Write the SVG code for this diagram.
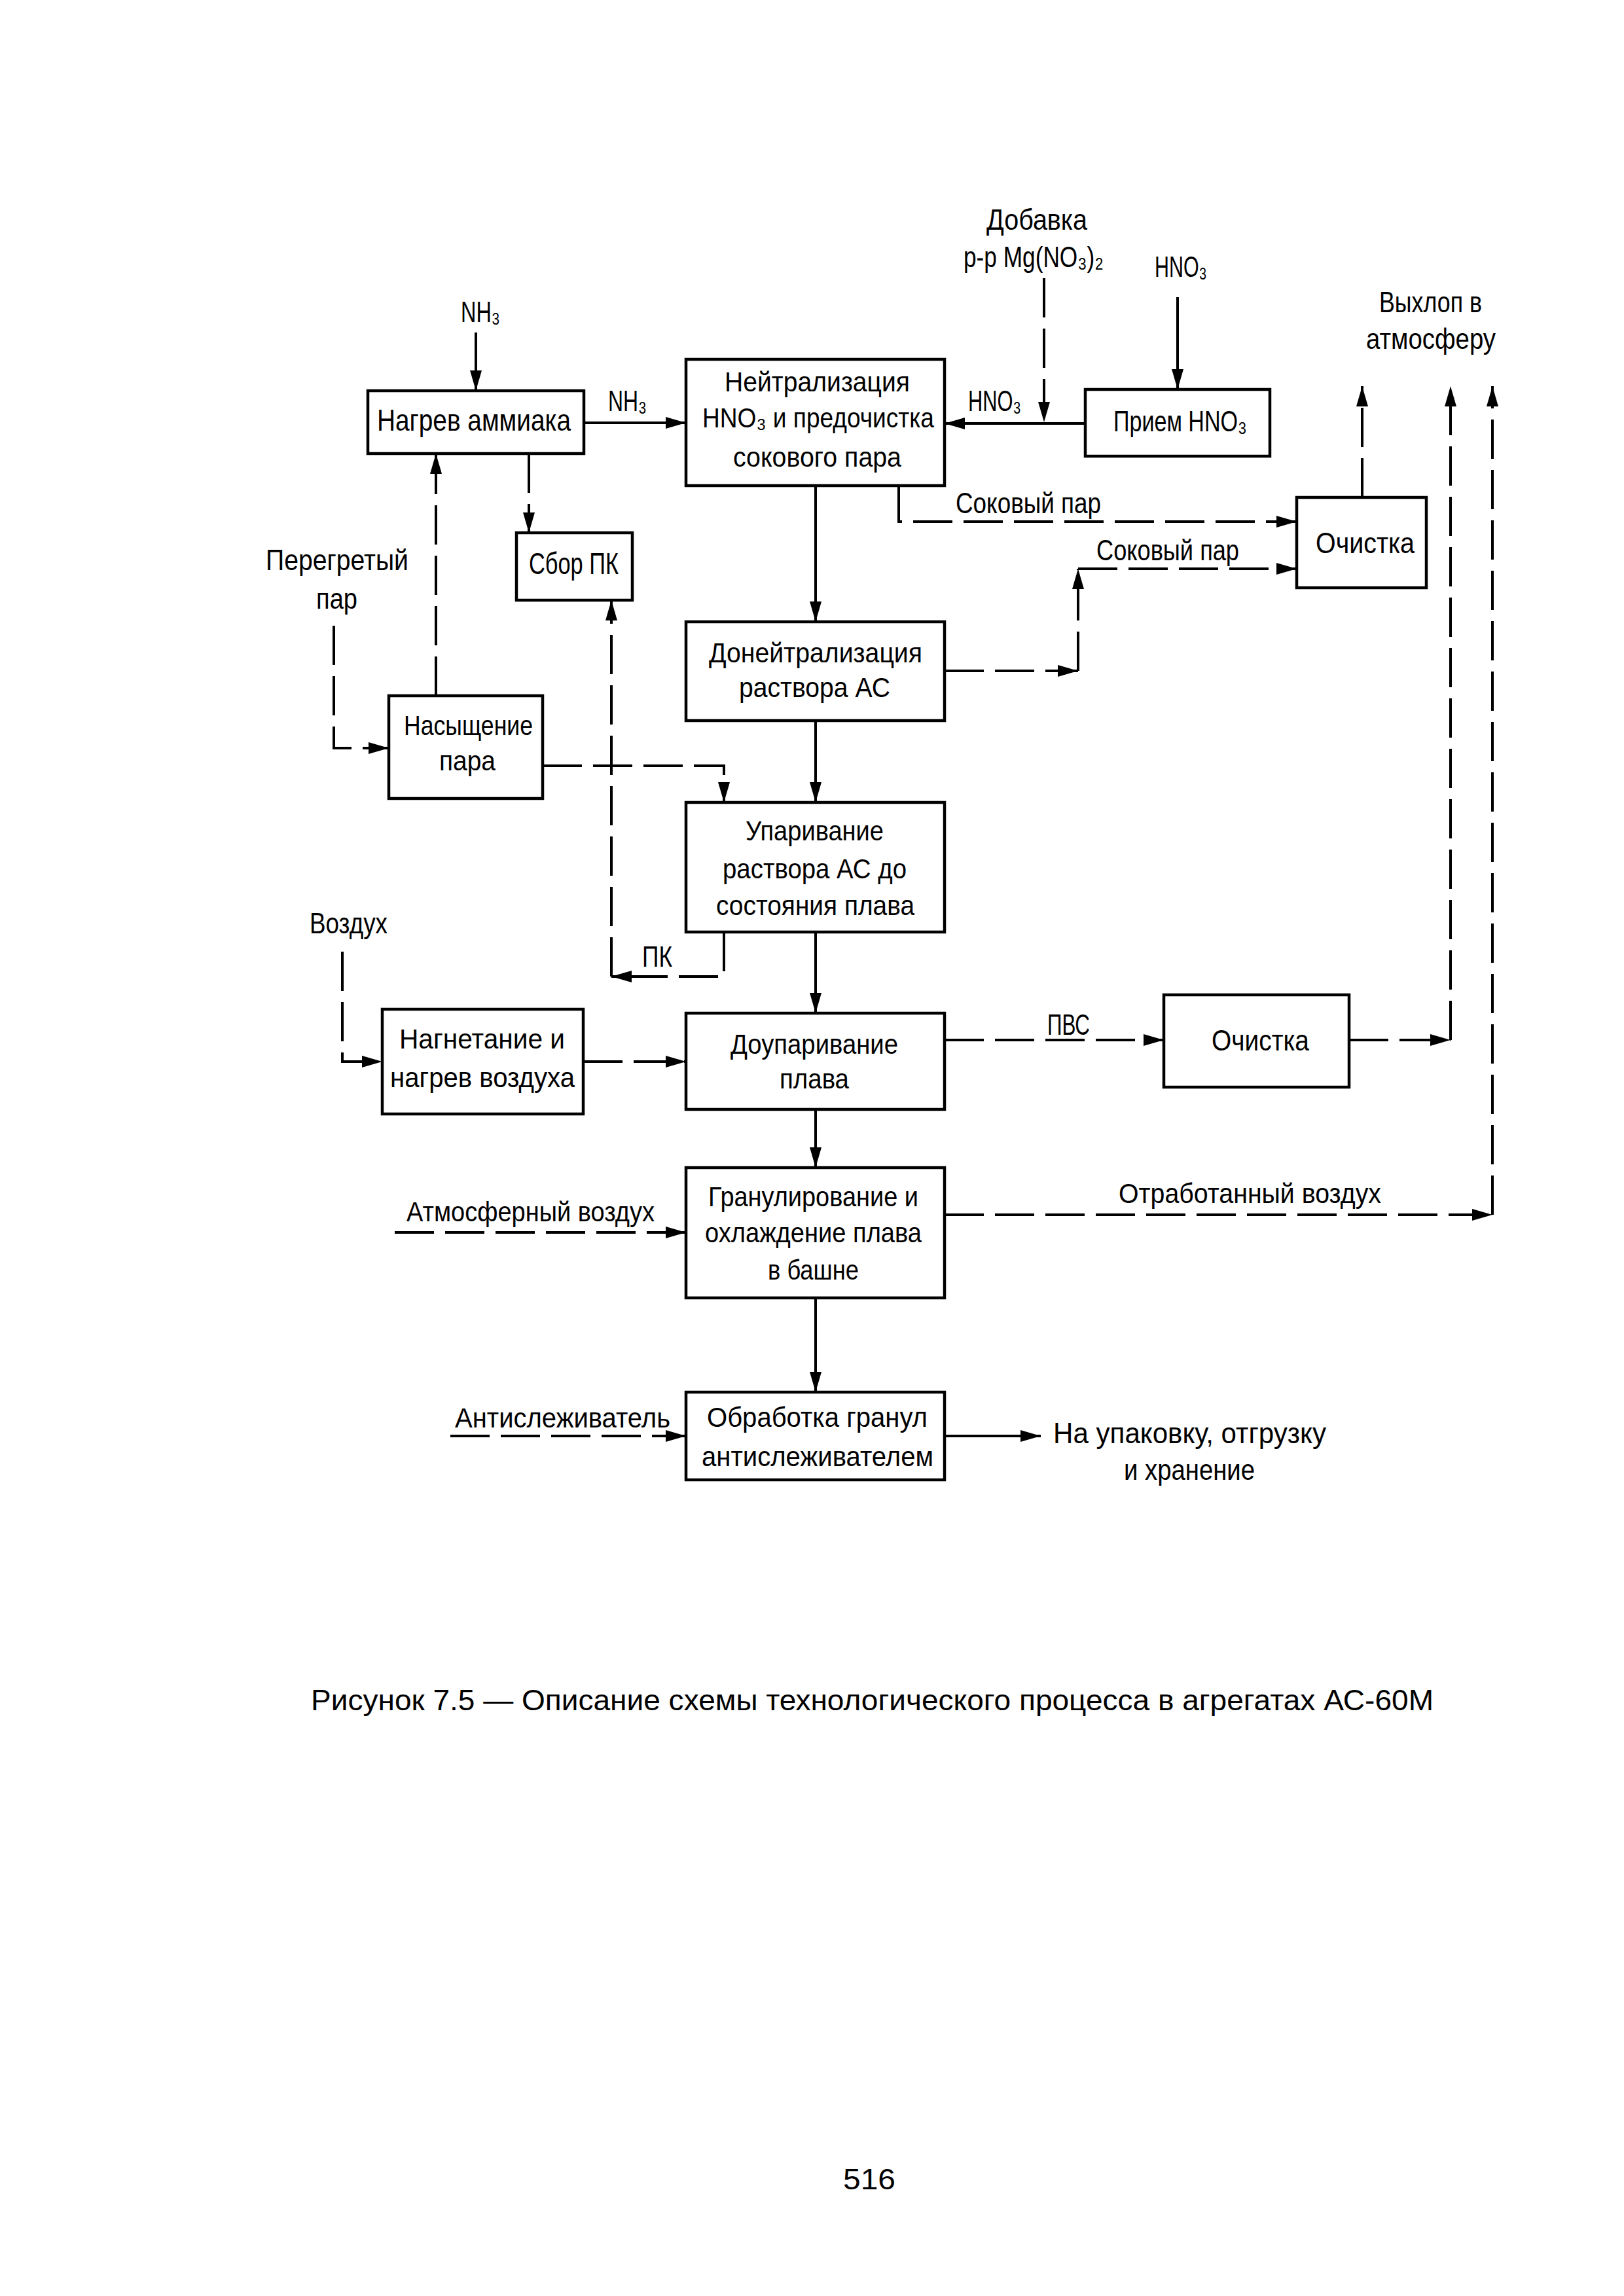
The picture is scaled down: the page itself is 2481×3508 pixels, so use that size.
<svg xmlns="http://www.w3.org/2000/svg" width="2481" height="3508" viewBox="0 0 2481 3508">
<style>
.box{fill:none;stroke:#000;stroke-width:4.5}
.ln{fill:none;stroke:#000;stroke-width:4}
.d{stroke-dasharray:60 17}
.t{font-family:"Liberation Sans","DejaVu Sans",Arial,sans-serif;fill:#000}
.s42{font-size:42px}
.s45{font-size:45px}
.cap{font-family:"Liberation Sans",Arial,sans-serif;font-size:45px;fill:#000}
</style>
<defs>
<marker id="ah" markerUnits="userSpaceOnUse" markerWidth="32" markerHeight="20" viewBox="0 0 32 20" refX="31" refY="10" orient="auto">
<path d="M0,1 L31,10 L0,19 z" fill="#000"/>
</marker>
</defs>
<rect width="2481" height="3508" fill="#fff"/>

<g id="connectors">
<path class="ln" d="M727,508 V597" marker-end="url(#ah)"/>
<path class="ln" d="M892,646 H1048" marker-end="url(#ah)"/>
<path class="ln" d="M1658,647 H1443" marker-end="url(#ah)"/>
<path class="ln" d="M1799,454 V595" marker-end="url(#ah)"/>
<path class="ln" d="M1246,742 V950" marker-end="url(#ah)"/>
<path class="ln" d="M1246,1101 V1226" marker-end="url(#ah)"/>
<path class="ln" d="M1246,1424 V1548" marker-end="url(#ah)"/>
<path class="ln" d="M1246,1695 V1784" marker-end="url(#ah)"/>
<path class="ln" d="M1246,1983 V2127" marker-end="url(#ah)"/>
<path class="ln" d="M1443,2194 H1590" marker-end="url(#ah)"/>
<path class="ln d" d="M1595,425 V645" marker-end="url(#ah)"/>
<path class="ln d" d="M808,693 V814" marker-end="url(#ah)"/>
<path class="ln d" d="M666,1063 V693" marker-end="url(#ah)"/>
<path class="ln d" d="M510,956 V1143 H594" marker-end="url(#ah)"/>
<path class="ln d" d="M829,1170 H1106 V1226" marker-end="url(#ah)"/>
<path class="ln d" d="M1106,1424 V1492 H934" marker-end="url(#ah)"/>
<path class="ln d" d="M934,1492 V917" marker-end="url(#ah)"/>
<path class="ln d" d="M1373,742 V797 H1981" marker-end="url(#ah)"/>
<path class="ln d" d="M1443,1025 H1647" marker-end="url(#ah)"/>
<path class="ln d" d="M1647,1025 V869" marker-end="url(#ah)"/>
<path class="ln d" d="M1647,869 H1981" marker-end="url(#ah)"/>
<path class="ln d" d="M2081,760 V590" marker-end="url(#ah)"/>
<path class="ln d" d="M523,1454 V1622 H584" marker-end="url(#ah)"/>
<path class="ln d" d="M891,1622 H1048" marker-end="url(#ah)"/>
<path class="ln d" d="M1443,1589 H1778" marker-end="url(#ah)"/>
<path class="ln d" d="M2061,1589 H2216" marker-end="url(#ah)"/>
<path class="ln d" d="M2216,1589 V590" marker-end="url(#ah)"/>
<path class="ln d" d="M603,1883 H1048" marker-end="url(#ah)"/>
<path class="ln d" d="M1443,1856 H2280" marker-end="url(#ah)"/>
<path class="ln d" d="M2280,1856 V590" marker-end="url(#ah)"/>
<path class="ln d" d="M688,2194 H1048" marker-end="url(#ah)"/>
</g>

<g id="n-nagrev">
<rect class="box" x="562" y="597" width="330" height="96"/>
<text class="t" style="font-size:46px" x="576" y="658" textLength="296" lengthAdjust="spacingAndGlyphs">Нагрев аммиака</text>
</g>
<g id="n-neutr">
<rect class="box" x="1048" y="549" width="395" height="193"/>
<text class="t s42" x="1107" y="598" textLength="283" lengthAdjust="spacingAndGlyphs">Нейтрализация</text>
<text class="t s42" x="1073" y="653" textLength="354" lengthAdjust="spacingAndGlyphs">HNO₃ и предочистка</text>
<text class="t s42" x="1120" y="713" textLength="257" lengthAdjust="spacingAndGlyphs">сокового пара</text>
</g>
<g id="n-priem">
<rect class="box" x="1658" y="595" width="282" height="102"/>
<text class="t s45" x="1701" y="659" textLength="204" lengthAdjust="spacingAndGlyphs">Прием HNO₃</text>
</g>
<g id="n-ochistka1">
<rect class="box" x="1981" y="760" width="198" height="138"/>
<text class="t s45" x="2010" y="845" textLength="151" lengthAdjust="spacingAndGlyphs">Очистка</text>
</g>
<g id="n-sbor">
<rect class="box" x="789" y="814" width="177" height="103"/>
<text class="t" style="font-size:46px" x="808" y="877" textLength="137" lengthAdjust="spacingAndGlyphs">Сбор ПК</text>
</g>
<g id="n-doneutr">
<rect class="box" x="1048" y="950" width="395" height="151"/>
<text class="t s42" x="1083" y="1012" textLength="326" lengthAdjust="spacingAndGlyphs">Донейтрализация</text>
<text class="t s42" x="1129" y="1065" textLength="231" lengthAdjust="spacingAndGlyphs">раствора АС</text>
</g>
<g id="n-nasysh">
<rect class="box" x="594" y="1063" width="235" height="157"/>
<text class="t s42" x="617" y="1123" textLength="197" lengthAdjust="spacingAndGlyphs">Насыщение</text>
<text class="t s42" x="671" y="1177" textLength="86" lengthAdjust="spacingAndGlyphs">пара</text>
</g>
<g id="n-upar">
<rect class="box" x="1048" y="1226" width="395" height="198"/>
<text class="t s42" x="1139" y="1284" textLength="211" lengthAdjust="spacingAndGlyphs">Упаривание</text>
<text class="t s42" x="1104" y="1342" textLength="281" lengthAdjust="spacingAndGlyphs">раствора АС до</text>
<text class="t s42" x="1094" y="1398" textLength="303" lengthAdjust="spacingAndGlyphs">состояния плава</text>
</g>
<g id="n-nagnet">
<rect class="box" x="584" y="1542" width="307" height="160"/>
<text class="t s42" x="610" y="1602" textLength="253" lengthAdjust="spacingAndGlyphs">Нагнетание и</text>
<text class="t s42" x="596" y="1661" textLength="282" lengthAdjust="spacingAndGlyphs">нагрев воздуха</text>
</g>
<g id="n-doupar">
<rect class="box" x="1048" y="1548" width="395" height="147"/>
<text class="t s42" x="1116" y="1610" textLength="256" lengthAdjust="spacingAndGlyphs">Доупаривание</text>
<text class="t s42" x="1191" y="1663" textLength="106" lengthAdjust="spacingAndGlyphs">плава</text>
</g>
<g id="n-ochistka2">
<rect class="box" x="1778" y="1520" width="283" height="141"/>
<text class="t s45" x="1851" y="1605" textLength="149" lengthAdjust="spacingAndGlyphs">Очистка</text>
</g>
<g id="n-granul">
<rect class="box" x="1048" y="1784" width="395" height="199"/>
<text class="t s42" x="1082" y="1843" textLength="321" lengthAdjust="spacingAndGlyphs">Гранулирование и</text>
<text class="t s42" x="1077" y="1898" textLength="331" lengthAdjust="spacingAndGlyphs">охлаждение плава</text>
<text class="t s42" x="1173" y="1955" textLength="139" lengthAdjust="spacingAndGlyphs">в башне</text>
</g>
<g id="n-obrab">
<rect class="box" x="1048" y="2127" width="395" height="134"/>
<text class="t s42" x="1080" y="2180" textLength="337" lengthAdjust="spacingAndGlyphs">Обработка гранул</text>
<text class="t s42" x="1072" y="2240" textLength="354" lengthAdjust="spacingAndGlyphs">антислеживателем</text>
</g>

<g id="labels">
<text class="t s45" x="704" y="492" textLength="60" lengthAdjust="spacingAndGlyphs">NH₃</text>
<text class="t s45" x="929" y="628" textLength="59" lengthAdjust="spacingAndGlyphs">NH₃</text>
<text class="t" style="font-size:44px" x="1507" y="351" textLength="154" lengthAdjust="spacingAndGlyphs">Добавка</text>
<text class="t" style="font-size:44px" x="1472" y="408" textLength="214" lengthAdjust="spacingAndGlyphs">р-р Mg(NO₃)₂</text>
<text class="t s45" x="1764" y="423" textLength="80" lengthAdjust="spacingAndGlyphs">HNO₃</text>
<text class="t s45" x="1479" y="628" textLength="81" lengthAdjust="spacingAndGlyphs">HNO₃</text>
<text class="t s45" x="2107" y="477" textLength="157" lengthAdjust="spacingAndGlyphs">Выхлоп в</text>
<text class="t s45" x="2087" y="533" textLength="198" lengthAdjust="spacingAndGlyphs">атмосферу</text>
<text class="t s45" x="1460" y="784" textLength="222" lengthAdjust="spacingAndGlyphs">Соковый пар</text>
<text class="t s45" x="1675" y="856" textLength="218" lengthAdjust="spacingAndGlyphs">Соковый пар</text>
<text class="t s45" x="406" y="871" textLength="218" lengthAdjust="spacingAndGlyphs">Перегретый</text>
<text class="t s45" x="483" y="930" textLength="63" lengthAdjust="spacingAndGlyphs">пар</text>
<text class="t s45" x="981" y="1477" textLength="46" lengthAdjust="spacingAndGlyphs">ПК</text>
<text class="t s45" x="473" y="1426" textLength="119" lengthAdjust="spacingAndGlyphs">Воздух</text>
<text class="t s45" x="1600" y="1581" textLength="65" lengthAdjust="spacingAndGlyphs">ПВС</text>
<text class="t s42" x="621" y="1866" textLength="379" lengthAdjust="spacingAndGlyphs">Атмосферный воздух</text>
<text class="t s42" x="1709" y="1838" textLength="401" lengthAdjust="spacingAndGlyphs">Отработанный воздух</text>
<text class="t s42" x="695" y="2181" textLength="329" lengthAdjust="spacingAndGlyphs">Антислеживатель</text>
<text class="t" style="font-size:44px" x="1609" y="2205" textLength="417" lengthAdjust="spacingAndGlyphs">На упаковку, отгрузку</text>
<text class="t" style="font-size:44px" x="1717" y="2261" textLength="200" lengthAdjust="spacingAndGlyphs">и хранение</text>
</g>

<g id="caption">
<text class="cap" x="475" y="2613" textLength="1715" lengthAdjust="spacingAndGlyphs">Рисунок 7.5 — Описание схемы технологического процесса в агрегатах АС-60М</text>
<text class="cap" style="font-size:44px" x="1288" y="3345" textLength="80" lengthAdjust="spacingAndGlyphs">516</text>
</g>
</svg>
